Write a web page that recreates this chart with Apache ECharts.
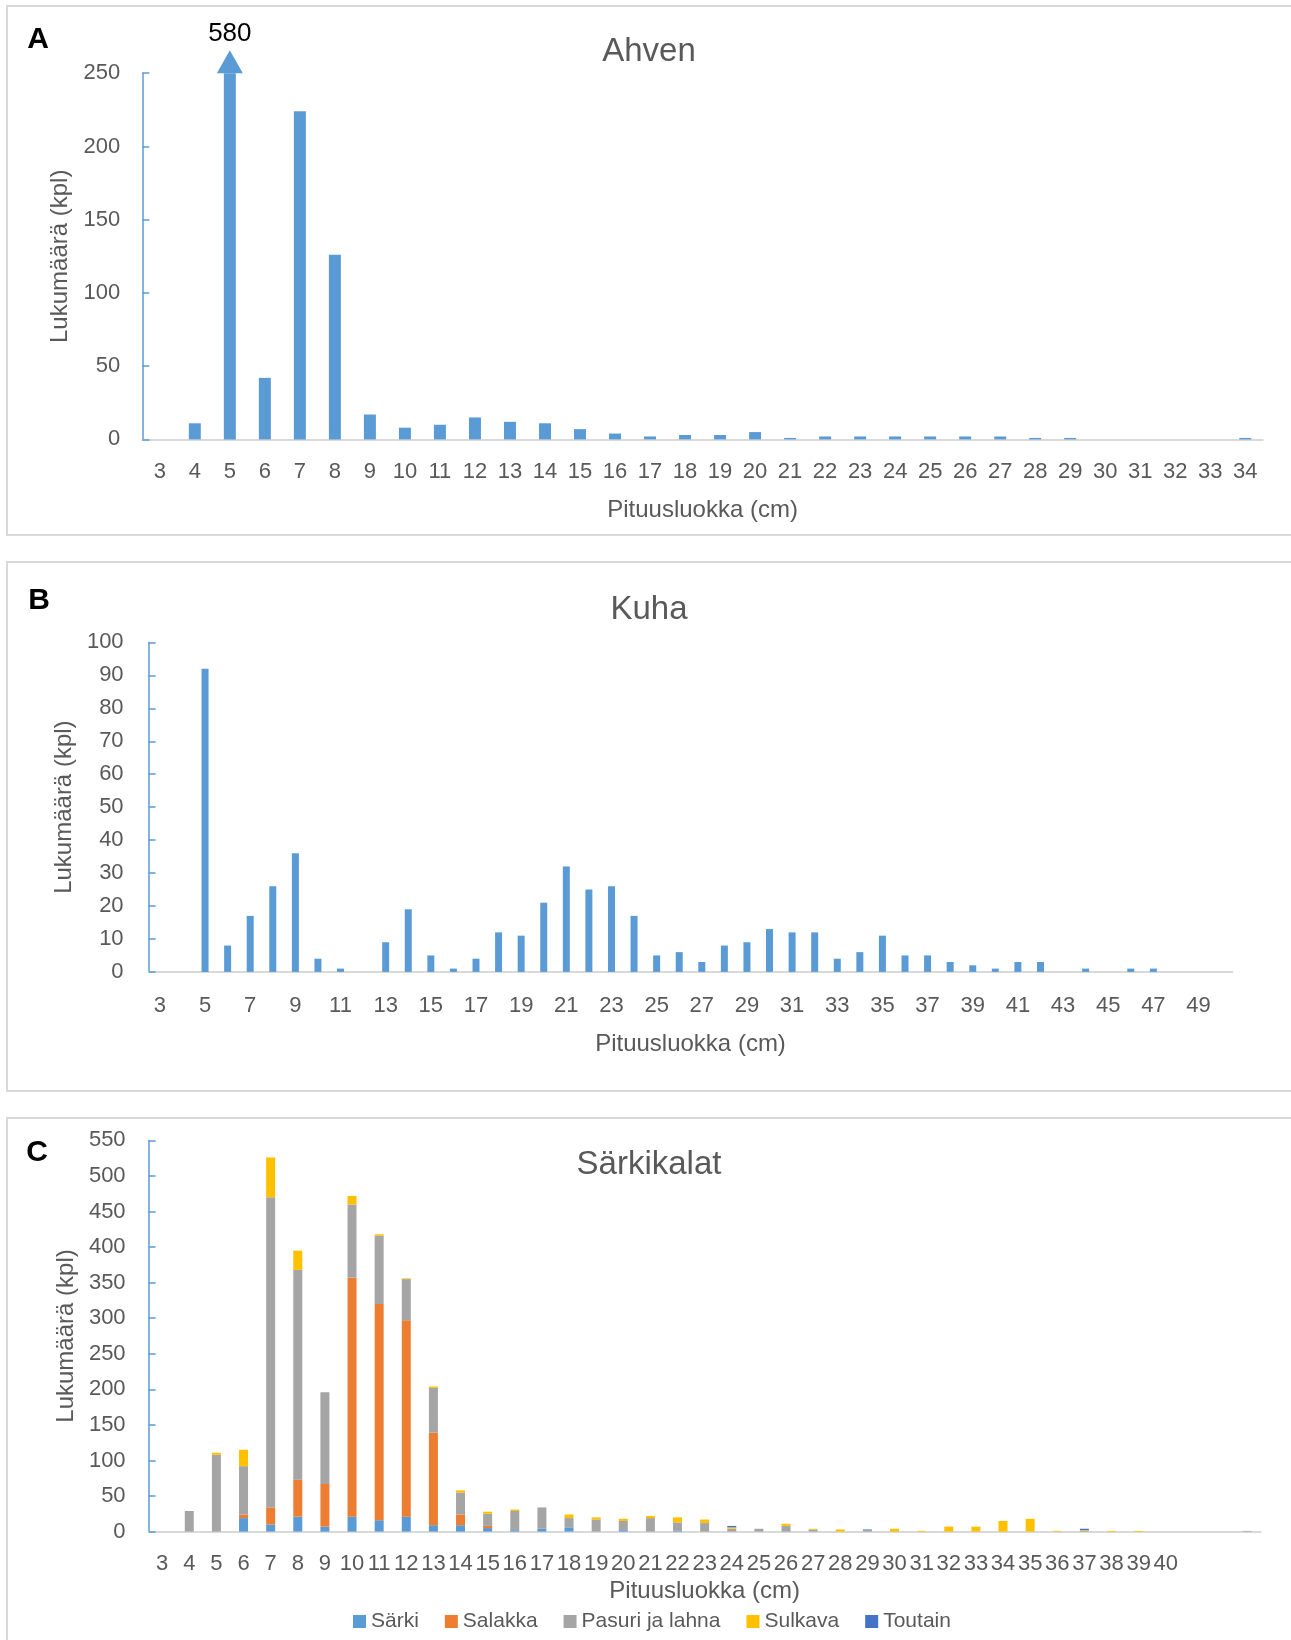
<!DOCTYPE html>
<html>
<head>
<meta charset="utf-8">
<title>Pituusjakaumat</title>
<script src="https://cdn.jsdelivr.net/npm/echarts@6/dist/echarts.min.js"></script>
<style>
    html, body { margin: 0; padding: 0; background: #ffffff; }
    #main { width: 1291px; height: 1640px; }
</style>
</head>
<body>
<div id="main"></div>
<script>
// A: Ahven
var ahvenClasses = ['3', '4', '5', '6', '7', '8', '9', '10', '11', '12', '13', '14', '15', '16', '17', '18',
    '19', '20', '21', '22', '23', '24', '25', '26', '27', '28', '29', '30', '31', '32', '33', '34'];
var ahvenCounts = [0, 11, 580, 42, 224, 126, 17, 8, 10, 15, 12, 11, 7, 4, 2, 3,
    3, 5, 1, 2, 2, 2, 2, 2, 2, 1, 1, 0, 0, 0, 0, 1];
var ahvenTicks = [0, 50, 100, 150, 200, 250];

// B: Kuha
var kuhaClasses = ['3', '4', '5', '6', '7', '8', '9', '10', '11', '12', '13', '14', '15', '16', '17', '18',
    '19', '20', '21', '22', '23', '24', '25', '26', '27', '28', '29', '30', '31', '32', '33', '34',
    '35', '36', '37', '38', '39', '40', '41', '42', '43', '44', '45', '46', '47', '48', '49', '50'];
var kuhaCounts = [0, 0, 92, 8, 17, 26, 36, 4, 1, 0, 9, 19, 5, 1, 4, 12,
    11, 21, 32, 25, 26, 17, 5, 6, 3, 8, 9, 13, 12, 12, 4, 6,
    11, 5, 5, 3, 2, 1, 3, 3, 0, 1, 0, 1, 1, 0, 0, 0];
var kuhaTicks = [0, 10, 20, 30, 40, 50, 60, 70, 80, 90, 100];

// C: Särkikalat (pinottu)
var sarkiClasses = ['3', '4', '5', '6', '7', '8', '9', '10', '11', '12', '13', '14', '15', '16', '17', '18',
    '19', '20', '21', '22', '23', '24', '25', '26', '27', '28', '29', '30', '31', '32', '33', '34',
    '35', '36', '37', '38', '39', '40', '41', '42', '43'];
var sarkiTickLabels = ['3', '4', '5', '6', '7', '8', '9', '10', '11', '12', '13', '14', '15', '16', '17', '18',
    '19', '20', '21', '22', '23', '24', '25', '26', '27', '28', '29', '30', '31', '32', '33', '34',
    '35', '36', '37', '38', '39', '40'];
var sarki = [0, 0, 0, 19, 10, 21, 7, 21, 16, 21, 9, 9, 5, 2, 4, 6,
    0, 2, 0, 1, 0, 0, 0, 0, 0, 0, 0, 0, 0, 0, 0, 0,
    0, 0, 0, 0, 0, 0, 0, 0, 0];
var salakka = [0, 0, 0, 5, 24, 52, 60, 336, 304, 276, 130, 15, 3, 0, 0, 0,
    0, 0, 0, 0, 0, 0, 0, 0, 0, 0, 0, 0, 0, 0, 0, 0,
    0, 0, 0, 0, 0, 0, 0, 0, 0];
var pasuriJaLahna = [0, 29, 108, 68, 436, 295, 129, 103, 96, 58, 63, 31, 17, 27, 30, 13,
    17, 13, 19, 12, 12, 4, 4, 8, 3, 0, 2, 0, 0, 0, 0, 0,
    0, 0, 1, 0, 0, 0, 0, 0, 1];
var sulkava = [0, 0, 3, 23, 56, 27, 0, 12, 2, 1, 2, 3, 3, 2, 0, 5,
    3, 3, 3, 7, 5, 2, 0, 3, 1, 3, 0, 4, 1, 7, 7, 15,
    18, 1, 1, 1, 1, 0, 0, 0, 0];
var toutain = [0, 0, 0, 0, 0, 0, 0, 0, 0, 0, 0, 0, 0, 0, 0, 0,
    0, 0, 0, 0, 0, 2, 0, 0, 0, 0, 1, 0, 0, 0, 0, 0,
    0, 0, 2, 0, 0, 0, 0, 0, 0];
var sarkiTicks = [0, 50, 100, 150, 200, 250, 300, 350, 400, 450, 500, 550];

var FONT = '"Liberation Sans", Arial, sans-serif';
var TEXT = '#595959';
var BLUE = '#5B9BD5';
var ORANGE = '#ED7D31';
var GRAY = '#A5A5A5';
var GOLD = '#FFC000';
var DARK_BLUE = '#4472C4';
var FRAME = '#D9D9D9';

/**
 * @description kategoria-akseli (pituusluokka)
 */
function lengthAxis(gridIndex, classes, labelInterval, labelMargin, nameGap, formatter) {
    return {
        type: 'category',
        gridIndex: gridIndex,
        data: classes,
        axisLine: {lineStyle: {color: FRAME, width: 2}},
        axisTick: {show: false},
        axisLabel: {
            interval: labelInterval,
            color: TEXT,
            fontFamily: FONT,
            fontSize: 22,
            margin: labelMargin,
            formatter: formatter
        },
        splitLine: {show: false},
        name: 'Pituusluokka (cm)',
        nameLocation: 'middle',
        nameGap: nameGap,
        nameTextStyle: {color: TEXT, fontFamily: FONT, fontSize: 24}
    };
}

/**
 * @description arvoakseli (lukumäärä)
 */
function countAxis(gridIndex, ticks, labelMargin, nameGap) {
    return {
        type: 'value',
        gridIndex: gridIndex,
        min: ticks[0],
        max: ticks[ticks.length - 1],
        interval: ticks[1] - ticks[0],
        axisLine: {show: true, lineStyle: {color: BLUE, width: 1.5}},
        axisTick: {show: true, inside: true, length: 7, lineStyle: {color: BLUE, width: 1.5}},
        axisLabel: {color: TEXT, fontFamily: FONT, fontSize: 22, margin: labelMargin},
        splitLine: {show: false},
        name: 'Lukumäärä (kpl)',
        nameLocation: 'middle',
        nameGap: nameGap,
        nameTextStyle: {color: TEXT, fontFamily: FONT, fontSize: 24}
    };
}

/**
 * @description nuolet pylväille, jotka menevät akselin yli
 */
function overflowPoints(classes, counts, axisMax) {
    var points = [];
    for (var i = 0; i < counts.length; i++) {
        if (counts[i] > axisMax) {
            points.push({coord: [classes[i], axisMax], value: counts[i]});
        }
    }
    return points;
}

function stacked(name, data, color) {
    return {
        name: name,
        type: 'bar',
        stack: 'sarki',
        xAxisIndex: 2,
        yAxisIndex: 2,
        barWidth: 9,
        itemStyle: {color: color},
        data: data
    };
}

function panelText(x, y, text, size, color, weight) {
    return {
        type: 'text',
        x: x,
        y: y,
        style: {
            text: text,
            fill: color,
            fontFamily: FONT,
            fontSize: size,
            fontWeight: weight,
            align: 'center',
            verticalAlign: 'middle',
            textAlign: 'center',
            textVerticalAlign: 'middle'
        }
    };
}

function frame(y, h) {
    return {
        type: 'rect',
        shape: {x: 7, y: y, width: 1320, height: h},
        style: {fill: 'none', stroke: FRAME, lineWidth: 2},
        z: -1
    };
}

var myChart = echarts.init(document.getElementById('main'), null, {renderer: 'canvas'});
var ahvenMax = ahvenTicks[ahvenTicks.length - 1];

var option = {
    animation: false,
    backgroundColor: '#ffffff',
    textStyle: {fontFamily: FONT},
    graphic: [
        frame(6, 529),
        frame(562, 529),
        frame(1118, 600),
        panelText(38, 40, 'A', 30, '#000000', 'bold'),
        panelText(39, 601, 'B', 30, '#000000', 'bold'),
        panelText(37, 1153, 'C', 30, '#000000', 'bold'),
        panelText(649, 51.5, 'Ahven', 33, TEXT, 'normal'),
        panelText(649, 609.5, 'Kuha', 33, TEXT, 'normal'),
        panelText(649, 1165, 'Särkikalat', 33, TEXT, 'normal')
    ],
    legend: {
        data: ['Särki', 'Salakka', 'Pasuri ja lahna', 'Sulkava', 'Toutain'],
        left: 348,
        top: 1606,
        icon: 'rect',
        itemWidth: 13,
        itemHeight: 13,
        itemGap: 26,
        textStyle: {color: TEXT, fontFamily: FONT, fontSize: 21}
    },
    grid: [
        {left: 142.3, top: 73.2, width: 1120.5, height: 366.2},
        {left: 148.6, top: 642.4, width: 1083.8, height: 329.5},
        {left: 148.6, top: 1140.4, width: 1112.1, height: 391.2}
    ],
    xAxis: [
        lengthAxis(0, ahvenClasses, 0, 22, 59),
        lengthAxis(1, kuhaClasses, 1, 23, 60),
        lengthAxis(2, sarkiClasses, 0, 21, 48, function (value) {
            return sarkiTickLabels.indexOf(value) >= 0 ? value : '';
        })
    ],
    yAxis: [
        countAxis(0, ahvenTicks, 22, 70),
        countAxis(1, kuhaTicks, 25, 72),
        countAxis(2, sarkiTicks, 23, 70)
    ],
    series: [{
        name: 'Ahven',
        type: 'bar',
        xAxisIndex: 0,
        yAxisIndex: 0,
        barWidth: 12,
        clip: true,
        itemStyle: {color: BLUE},
        data: ahvenCounts,
        markPoint: {
            symbol: 'triangle',
            symbolSize: [26, 23],
            symbolOffset: [0, '-50%'],
            itemStyle: {color: BLUE},
            label: {
                show: true,
                position: 'top',
                distance: 3,
                color: '#000000',
                fontFamily: FONT,
                fontSize: 26,
                formatter: function (p) {
                    return p.value;
                }
            },
            data: overflowPoints(ahvenClasses, ahvenCounts, ahvenMax)
        }
    }, {
        name: 'Kuha',
        type: 'bar',
        xAxisIndex: 1,
        yAxisIndex: 1,
        barWidth: 7,
        itemStyle: {color: BLUE},
        data: kuhaCounts
    },
        stacked('Särki', sarki, BLUE),
        stacked('Salakka', salakka, ORANGE),
        stacked('Pasuri ja lahna', pasuriJaLahna, GRAY),
        stacked('Sulkava', sulkava, GOLD),
        stacked('Toutain', toutain, DARK_BLUE)
    ]
};

if (option && typeof option === 'object') {
    myChart.setOption(option, true);
}
window.addEventListener('resize', function () {
    myChart.resize();
});
</script>
</body>
</html>
